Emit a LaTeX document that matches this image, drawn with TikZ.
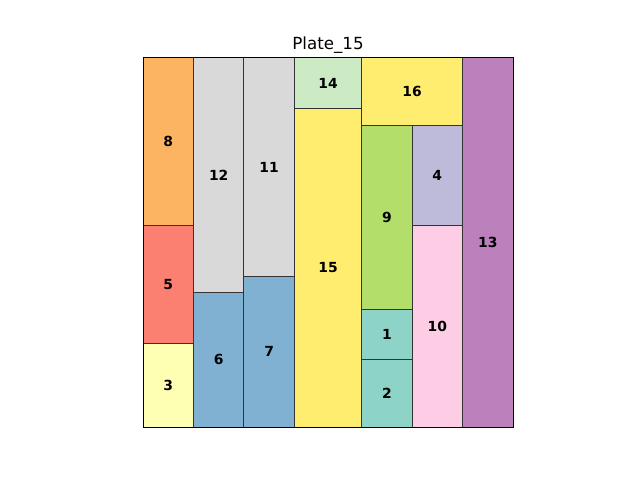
\documentclass[tikz,border=0pt]{standalone}
\usepackage{fontspec}
\setmainfont{DejaVu Sans}
\usepackage{xcolor}
\usepackage{tikz}

\definecolor{orng}{HTML}{FDB462}
\definecolor{salmon}{HTML}{FB8072}
\definecolor{cream}{HTML}{FFFFB3}
\definecolor{grey}{HTML}{D9D9D9}
\definecolor{steel}{HTML}{80B1D3}
\definecolor{mint}{HTML}{CCEBC5}
\definecolor{yell}{HTML}{FFED6F}
\definecolor{lime}{HTML}{B3DE69}
\definecolor{teal}{HTML}{8DD3C7}
\definecolor{lav}{HTML}{BEBADA}
\definecolor{pink}{HTML}{FCCDE5}
\definecolor{purp}{HTML}{BC80BD}
\definecolor{edge}{HTML}{333333}

\begin{document}
\begin{tikzpicture}[
    x=1pt, y=-1pt,
    piece/.style={draw=edge, line width=1pt},
    lbl/.style={font=\fontsize{13.9}{14}\selectfont\bfseries},
    ttl/.style={font=\fontsize{16.7}{17}\selectfont}
]
    \useasboundingbox (0,0) rectangle (640,480);

    % Plate in cutting units (22 x 22)
    \begin{scope}[shift={(143,427)}, x=16.818pt, y=16.773pt]
        \foreach \n/\x/\y/\w/\h/\c in {
            8/0/12/3/10/orng, 5/0/5/3/7/salmon, 3/0/0/3/5/cream,
            12/3/8/3/14/grey, 6/3/0/3/8/steel,
            11/6/9/3/13/grey, 7/6/0/3/9/steel,
            14/9/19/4/3/mint, 15/9/0/4/19/yell,
            16/13/18/6/4/yell,
            9/13/7/3/11/lime, 1/13/4/3/3/teal, 2/13/0/3/4/teal,
            4/16/12/3/6/lav, 10/16/0/3/12/pink,
            13/19/0/3/22/purp}
        {
            \draw[piece, fill=\c] (\x,\y) rectangle ++(\w,\h);
            \node[lbl] (p\n) at (\x+\w/2, \y+\h/2) {\n};
        }
        % Plate frame
        \draw[black, line width=1pt] (0,0) rectangle (22,22);
        \node[ttl, anchor=base] (title) at (11,22.5) {Plate\_15};
    \end{scope}
\end{tikzpicture}
\end{document}
